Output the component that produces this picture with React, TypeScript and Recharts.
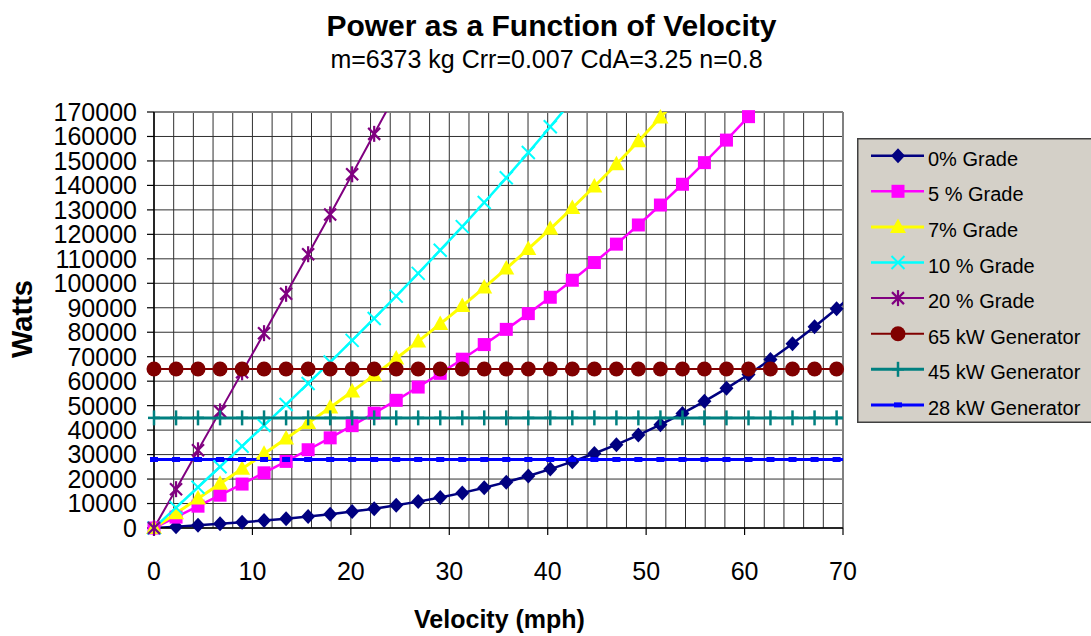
import React from "react";
import { LineChart, Line, XAxis, YAxis, CartesianGrid, ReferenceLine, Legend } from "recharts";

const FONT = '"Liberation Sans", Arial, Helvetica, sans-serif';

// velocity of each plotted point (mph), one point per m/s
const MPH = [
  0, 2.24, 4.47, 6.71, 8.95, 11.18, 13.42, 15.66, 17.9, 20.13, 22.37, 24.61, 26.84, 29.08, 31.32, 33.55,
  35.79, 38.03, 40.26, 42.5, 44.74, 46.98, 49.21, 51.45, 53.69, 55.92, 58.16, 60.4, 62.63, 64.87, 67.11,
  69.35, 71.58,
];

// watts per grade
const GRADE_0 = [
  0, 550, 1110, 1710, 2340, 3040, 3810, 4670, 5620, 6700, 7910, 9260, 10780, 12470, 14350, 16430, 18740,
  21270, 24060, 27110, 30440, 34060, 37990, 42240, 46820, 51760, 57060, 62750, 68820, 75310, 82220, 89570,
  97380,
];
const GRADE_5 = [
  0, 4450, 8920, 13410, 17950, 22550, 27220, 31980, 36840, 41820, 46930, 52180, 57600, 63190, 68980, 74960,
  81170, 87610, 94300, 101250, 108480, 116000, 123830, 131980, 140470, 149310, 158520, 168100, 178080,
];
const GRADE_7 = [
  0, 6010, 12030, 18080, 24170, 30320, 36550, 42860, 49270, 55800, 62470, 69280, 76250, 83390, 90730, 98270,
  106030, 114030, 122270, 130780, 139560, 148640, 158020, 167730, 177770,
];
const GRADE_10 = [
  0, 8320, 16660, 25030, 33440, 41910, 50450, 59080, 67810, 76660, 85640, 94760, 104050, 113520, 123170,
  133030, 143100, 153420, 163980, 174800,
];
const GRADE_20 = [0, 15870, 31750, 47660, 63610, 79620, 95700, 111880, 128150, 144540, 161070, 177740];

// generator output levels (W)
const GEN_65 = 65000;
const GEN_45 = 45000;
const GEN_28 = 28000;

const X_TICKS = [0, 10, 20, 30, 40, 50, 60, 70];
const X_GRID = [
  0, 2, 4, 6, 8, 10, 12, 14, 16, 18, 20, 22, 24, 26, 28, 30, 32, 34, 36, 38, 40, 42, 44, 46, 48, 50, 52, 54,
  56, 58, 60, 62, 64, 66, 68, 70,
];
const Y_TICKS = [
  0, 10000, 20000, 30000, 40000, 50000, 60000, 70000, 80000, 90000, 100000, 110000, 120000, 130000, 140000,
  150000, 160000, 170000,
];
const X_MAX = 70;
const Y_MAX = 170000;

type Shape = "diamond" | "square" | "triangle" | "x" | "star" | "circle" | "plus" | "dash";
type Series = { id: string; name: string; color: string; width: number; shape: Shape; values?: number[]; level?: number };

const SERIES: Series[] = [
  { id: "g0", name: "0% Grade", color: "#000080", width: 2.5, shape: "diamond", values: GRADE_0 },
  { id: "g5", name: "5 % Grade", color: "#FF00FF", width: 2.5, shape: "square", values: GRADE_5 },
  { id: "g7", name: "7% Grade", color: "#FFFF00", width: 3, shape: "triangle", values: GRADE_7 },
  { id: "g10", name: "10 % Grade", color: "#00FFFF", width: 2.5, shape: "x", values: GRADE_10 },
  { id: "g20", name: "20 % Grade", color: "#800080", width: 2, shape: "star", values: GRADE_20 },
  { id: "k65", name: "65 kW Generator", color: "#800000", width: 2, shape: "circle", level: GEN_65 },
  { id: "k45", name: "45 kW Generator", color: "#008080", width: 3, shape: "plus", level: GEN_45 },
  { id: "k28", name: "28 kW Generator", color: "#0000FF", width: 3, shape: "dash", level: GEN_28 },
];

const rowsOf = (s: Series) =>
  s.level != null ? MPH.map((v) => ({ v, p: s.level })) : (s.values || []).map((p, i) => ({ v: MPH[i], p }));

function Marker({ shape, color, cx, cy }: { shape: Shape; color: string; cx: number; cy: number }) {
  switch (shape) {
    case "diamond":
      return <polygon points={`${cx},${cy - 7.5} ${cx + 7},${cy} ${cx},${cy + 7.5} ${cx - 7},${cy}`} fill={color} />;
    case "square":
      return <rect x={cx - 6.5} y={cy - 6.5} width={13} height={13} fill={color} />;
    case "triangle":
      return <polygon points={`${cx},${cy - 8.5} ${cx + 8},${cy + 6} ${cx - 8},${cy + 6}`} fill={color} />;
    case "x":
      return (
        <g stroke={color} strokeWidth={2}>
          <line x1={cx - 6.5} y1={cy - 6.5} x2={cx + 6.5} y2={cy + 6.5} />
          <line x1={cx - 6.5} y1={cy + 6.5} x2={cx + 6.5} y2={cy - 6.5} />
        </g>
      );
    case "star":
      return (
        <g stroke={color} strokeWidth={2.2}>
          <line x1={cx - 6} y1={cy - 6} x2={cx + 6} y2={cy + 6} />
          <line x1={cx - 6} y1={cy + 6} x2={cx + 6} y2={cy - 6} />
          <line x1={cx} y1={cy - 8} x2={cx} y2={cy + 8} />
        </g>
      );
    case "circle":
      return <circle cx={cx} cy={cy} r={7.5} fill={color} />;
    case "plus":
      return (
        <g stroke={color} strokeWidth={2.5}>
          <line x1={cx} y1={cy - 7.5} x2={cx} y2={cy + 7.5} />
          <line x1={cx - 6} y1={cy} x2={cx + 6} y2={cy} />
        </g>
      );
    case "dash":
      return <rect x={cx - 4} y={cy - 2.5} width={8} height={5} fill={color} />;
  }
  return null;
}

const renderLegend = (props: any) => {
  const names = (props.payload || []).map((e: any) => e.value);
  // keep the series order, not the payload's sorted order
  const items = SERIES.filter((s) => names.includes(s.name));
  return (
    <svg width={234} height={285} style={{ display: "block", fontFamily: FONT }}>
      <rect x={0} y={0} width={234} height={285} fill="#D4D0C8" />
      <path d="M234,0.75 H0.75 V284.25 H234" fill="none" stroke="#404040" strokeWidth={1.5} />
      {items.map((s, i) => {
        const y = 17.7 + i * 35.6;
        return (
          <g key={s.id}>
            <line x1={14} y1={y} x2={67} y2={y} stroke={s.color} strokeWidth={s.width} />
            <Marker shape={s.shape} color={s.color} cx={41} cy={y} />
            <text x={71} y={y + 10} fontSize={20} fill="#000">
              {s.name}
            </text>
          </g>
        );
      })}
    </svg>
  );
};

export default function App() {
  const axisText = { fontSize: 25, fill: "#000", fontFamily: FONT };
  return (
    <div style={{ position: "absolute", left: 0, top: 0, width: 1091, height: 636, background: "#fff" }}>
      <LineChart width={1091} height={636} margin={{ top: 112, right: 248, bottom: 48, left: 54 }} style={{ fontFamily: FONT }}>
        <CartesianGrid stroke="#303030" strokeWidth={1} verticalValues={X_GRID} />
        <XAxis
          dataKey="v"
          type="number"
          domain={[0, X_MAX]}
          ticks={X_TICKS}
          interval={0}
          height={60}
          tickSize={7}
          tickMargin={27}
          tick={axisText}
          axisLine={{ stroke: "#000", strokeWidth: 1.5 }}
          tickLine={{ stroke: "#000", strokeWidth: 1.2 }}
        />
        <YAxis
          type="number"
          domain={[0, Y_MAX]}
          ticks={Y_TICKS}
          interval={0}
          width={100}
          tickSize={7}
          tickMargin={10}
          tick={axisText}
          axisLine={{ stroke: "#000", strokeWidth: 1.5 }}
          tickLine={{ stroke: "#000", strokeWidth: 1.2 }}
        />
        {/* hidden clipping axes for the curves that run off the top */}
        <XAxis xAxisId="ov" dataKey="v" type="number" domain={[0, X_MAX]} allowDataOverflow hide />
        <YAxis yAxisId="ov" type="number" domain={[0, Y_MAX]} allowDataOverflow hide />
        <ReferenceLine y={Y_MAX} stroke="#808080" strokeWidth={2} />
        <ReferenceLine x={X_MAX} stroke="#808080" strokeWidth={2} />
        {SERIES.flatMap((s) => {
          const rows = rowsOf(s);
          const marks = rows.filter((r) => r.v <= X_MAX && (r.p as number) <= Y_MAX);
          return [
            <Line
              key={s.id + "-line"}
              xAxisId="ov"
              yAxisId="ov"
              data={rows}
              dataKey="p"
              type="linear"
              stroke={s.color}
              strokeWidth={s.width}
              dot={false}
              activeDot={false}
              legendType="none"
              isAnimationActive={false}
            />,
            <Line
              key={s.id + "-mk"}
              data={marks}
              dataKey="p"
              name={s.name}
              type="linear"
              stroke="none"
              activeDot={false}
              isAnimationActive={false}
              dot={(p: any) =>
                p.cx == null || p.cy == null ? (
                  <g key={s.id + "-d" + p.index} />
                ) : (
                  <g key={s.id + "-d" + p.index}>
                    <Marker shape={s.shape} color={s.color} cx={p.cx} cy={p.cy} />
                  </g>
                )
              }
            />,
          ];
        })}
        <Legend
          layout="vertical"
          align="center"
          verticalAlign="middle"
          content={renderLegend}
          wrapperStyle={{ left: 857, top: 138, width: 234, height: 285 }}
        />
      </LineChart>
      <svg
        width={1091}
        height={636}
        style={{ position: "absolute", left: 0, top: 0, pointerEvents: "none", fontFamily: FONT }}
      >
        <text x={551.5} y={36} textAnchor="middle" fontSize={30} fontWeight="bold" fill="#000">
          Power as a Function of Velocity
        </text>
        <text x={546.5} y={68} textAnchor="middle" fontSize={25} fill="#000">
          m=6373 kg Crr=0.007 CdA=3.25 n=0.8
        </text>
        <text x={499.5} y={628} textAnchor="middle" fontSize={25} fontWeight="bold" fill="#000">
          Velocity (mph)
        </text>
        <text transform="translate(32,319) rotate(-90)" textAnchor="middle" fontSize={29} fontWeight="bold" fill="#000">
          Watts
        </text>
      </svg>
    </div>
  );
}
